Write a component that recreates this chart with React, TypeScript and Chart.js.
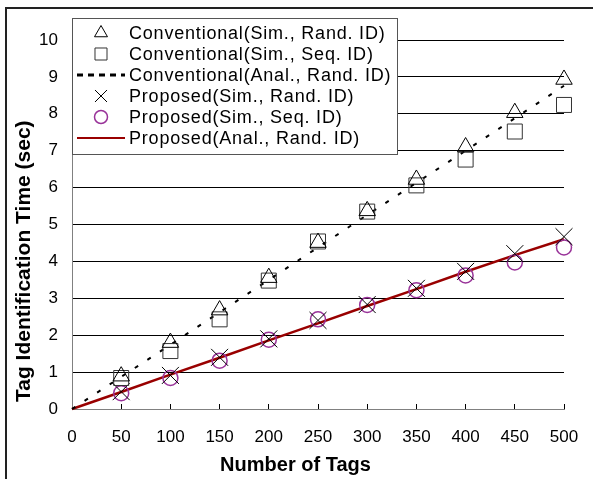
import React, { useEffect, useRef } from "react";
import { Chart, registerables } from "chart.js";
import { drawPoint } from "chart.js/helpers";

Chart.register(...registerables);

const FONT = "'Liberation Sans', Arial, sans-serif";

const xTicks = [0, 50, 100, 150, 200, 250, 300, 350, 400, 450, 500];
const simTagCounts = [50, 100, 150, 200, 250, 300, 350, 400, 450, 500];
const analTagCounts = [0, 50, 100, 150, 200, 250, 300, 350, 400, 450, 500];

const convSimRand = [0.89, 1.8, 2.68, 3.56, 4.51, 5.37, 6.22, 7.1, 8.03, 8.93];
const convSimSeq = [0.84, 1.57, 2.43, 3.48, 4.54, 5.35, 6.06, 6.76, 7.52, 8.24];
const convAnalRand = [0, 0.87, 1.74, 2.62, 3.5, 4.38, 5.26, 6.13, 7.0, 7.88, 8.76];
const propSimRand = [0.47, 0.91, 1.4, 1.9, 2.4, 2.83, 3.27, 3.73, 4.21, 4.67];
const propSimSeq = [0.43, 0.84, 1.31, 1.88, 2.43, 2.82, 3.22, 3.62, 3.97, 4.38];
const propAnalRand = [0, 0.46, 0.93, 1.39, 1.86, 2.32, 2.79, 3.25, 3.72, 4.17, 4.6];

const seriesLabels = [
  "Conventional(Sim., Rand. ID)",
  "Conventional(Sim., Seq. ID)",
  "Conventional(Anal., Rand. ID)",
  "Proposed(Sim., Rand. ID)",
  "Proposed(Sim., Seq. ID)",
  "Proposed(Anal., Rand. ID)",
];

const xTitle = "Number of Tags";
const yTitle = "Tag Identification Time (sec)";

const toPts = (xs: number[], ys: number[]) => xs.map((x, i) => ({ x, y: ys[i] }));

const legendRadius = [7.5, 8.5, 0, 8.5, 6.5, 0];

const framePlugin = {
  id: "frame",
  beforeDraw(chart: any) {
    const ctx = chart.ctx;
    ctx.save();
    ctx.fillStyle = "#fff";
    ctx.fillRect(0, 0, chart.width, chart.height);
    ctx.restore();
  },
  afterDraw(chart: any) {
    const ctx = chart.ctx;
    ctx.save();
    ctx.strokeStyle = "#222";
    ctx.lineWidth = 2;
    ctx.setLineDash([]);
    ctx.beginPath();
    ctx.moveTo(6, chart.height + 5);
    ctx.lineTo(6, 8);
    ctx.lineTo(chart.width + 5, 8);
    ctx.stroke();
    ctx.restore();
  },
};

const titlesPlugin = {
  id: "axisTitles",
  afterDraw(chart: any) {
    const ctx = chart.ctx;
    ctx.save();
    ctx.fillStyle = "#000";
    ctx.font = `bold 20px ${FONT}`;
    ctx.textAlign = "center";
    ctx.textBaseline = "alphabetic";
    ctx.fillText(xTitle, 295.5, 471);
    ctx.translate(30, 402);
    ctx.rotate(-Math.PI / 2);
    ctx.font = `bold 21px ${FONT}`;
    ctx.textAlign = "left";
    ctx.fillText(yTitle, 0, 0);
    ctx.restore();
  },
};

const legendPlugin = {
  id: "customLegend",
  afterDatasetsDraw(chart: any) {
    const ctx = chart.ctx;
    const x0 = 72, y0 = 18, w = 325, h = 136;
    ctx.save();
    ctx.fillStyle = "#fff";
    ctx.fillRect(x0, y0, w, h);
    ctx.strokeStyle = "#555";
    ctx.lineWidth = 1;
    ctx.strokeRect(x0 + 0.5, y0 + 0.5, w, h);
    chart.data.datasets.forEach((ds: any, i: number) => {
      const cy = 33 + i * 21;
      ctx.save();
      if (ds.showLine) {
        ctx.strokeStyle = ds.borderColor;
        ctx.lineWidth = ds.borderDash && ds.borderDash.length ? 3 : 2;
        ctx.setLineDash(ds.borderDash && ds.borderDash.length ? [6, 5] : []);
        ctx.beginPath();
        ctx.moveTo(77, cy);
        ctx.lineTo(125, cy);
        ctx.stroke();
      } else {
        ctx.strokeStyle = ds.borderColor;
        ctx.fillStyle = "rgba(0,0,0,0)";
        ctx.lineWidth = ds.pointBorderWidth;
        drawPoint(ctx, { pointStyle: ds.pointStyle, rotation: 0, radius: legendRadius[i], borderWidth: ds.pointBorderWidth }, 101, cy);
      }
      ctx.restore();
      ctx.fillStyle = "#000";
      ctx.font = `18px ${FONT}`;
      (ctx as any).letterSpacing = "0.8px";
      ctx.textAlign = "left";
      ctx.textBaseline = "middle";
      ctx.fillText(ds.label, 129, cy + 1);
      (ctx as any).letterSpacing = "0px";
    });
    ctx.restore();
  },
};

export default function App() {
  const ref = useRef<HTMLCanvasElement>(null);

  useEffect(() => {
    const canvas = ref.current!;
    const chart = new Chart(canvas, {
      type: "scatter",
      data: {
        datasets: [
          {
            label: seriesLabels[0],
            data: toPts(simTagCounts, convSimRand),
            pointStyle: "triangle",
            pointRadius: 9.5,
            pointBorderWidth: 1,
            borderColor: "#000",
            backgroundColor: "rgba(0,0,0,0)",
            showLine: false,
            clip: false,
          },
          {
            label: seriesLabels[1],
            data: toPts(simTagCounts, convSimSeq),
            pointStyle: "rect",
            pointRadius: 10.6,
            pointBorderWidth: 1,
            borderColor: "#333",
            backgroundColor: "rgba(0,0,0,0)",
            showLine: false,
            clip: false,
          },
          {
            label: seriesLabels[2],
            data: toPts(analTagCounts, convAnalRand),
            showLine: true,
            borderColor: "#000",
            borderWidth: 2,
            borderDash: [4, 11],
            pointRadius: 0,
            backgroundColor: "rgba(0,0,0,0)",
            clip: false,
          },
          {
            label: seriesLabels[3],
            data: toPts(simTagCounts, propSimRand),
            pointStyle: "crossRot",
            pointRadius: 12,
            pointBorderWidth: 1,
            borderColor: "#000",
            backgroundColor: "rgba(0,0,0,0)",
            showLine: false,
            clip: false,
          },
          {
            label: seriesLabels[4],
            data: toPts(simTagCounts, propSimSeq),
            pointStyle: "circle",
            pointRadius: 7.5,
            pointBorderWidth: 1.5,
            borderColor: "#993399",
            backgroundColor: "rgba(0,0,0,0)",
            showLine: false,
            clip: false,
          },
          {
            label: seriesLabels[5],
            data: toPts(analTagCounts, propAnalRand),
            showLine: true,
            borderColor: "#990000",
            borderWidth: 2.5,
            pointRadius: 0,
            backgroundColor: "rgba(0,0,0,0)",
            clip: false,
          },
        ] as any,
      },
      options: {
        responsive: false,
        animation: false,
        devicePixelRatio: 1,
        layout: { padding: { left: 0, top: 40, right: 29, bottom: 0 } },
        plugins: { legend: { display: false }, tooltip: { enabled: false } },
        scales: {
          x: {
            type: "linear",
            min: 0,
            max: 500,
            afterFit: (s: any) => { s.height = 70; s.paddingRight = 0; s.paddingLeft = 0; },
            afterBuildTicks: (s: any) => { s.ticks = xTicks.map((v) => ({ value: v })); },
            grid: { display: true, drawOnChartArea: false, drawTicks: true, tickLength: -5, color: "#000", lineWidth: 1 },
            border: { display: true, color: "#808080", width: 1 },
            ticks: { color: "#000", font: { family: FONT, size: 17 }, padding: 23, maxRotation: 0, autoSkip: false },
          },
          y: {
            min: 0,
            max: 10,
            afterFit: (s: any) => { s.width = 72; },
            grid: {
              color: (c: any) => (c.tick && c.tick.value === 0 ? "#808080" : "#000"),
              drawTicks: false,
              lineWidth: 1,
            },
            border: { display: true, color: "#808080", width: 1 },
            ticks: { stepSize: 1, padding: 14, color: "#000", font: { family: FONT, size: 17 } },
          },
        },
      } as any,
      plugins: [framePlugin, legendPlugin, titlesPlugin],
    });
    return () => chart.destroy();
  }, []);

  return (
    <div style={{ position: "absolute", left: 0, top: 0, width: 593, height: 479, background: "#fff" }}>
      <canvas ref={ref} width={593} height={479} style={{ display: "block", width: 593, height: 479 }} />
    </div>
  );
}
